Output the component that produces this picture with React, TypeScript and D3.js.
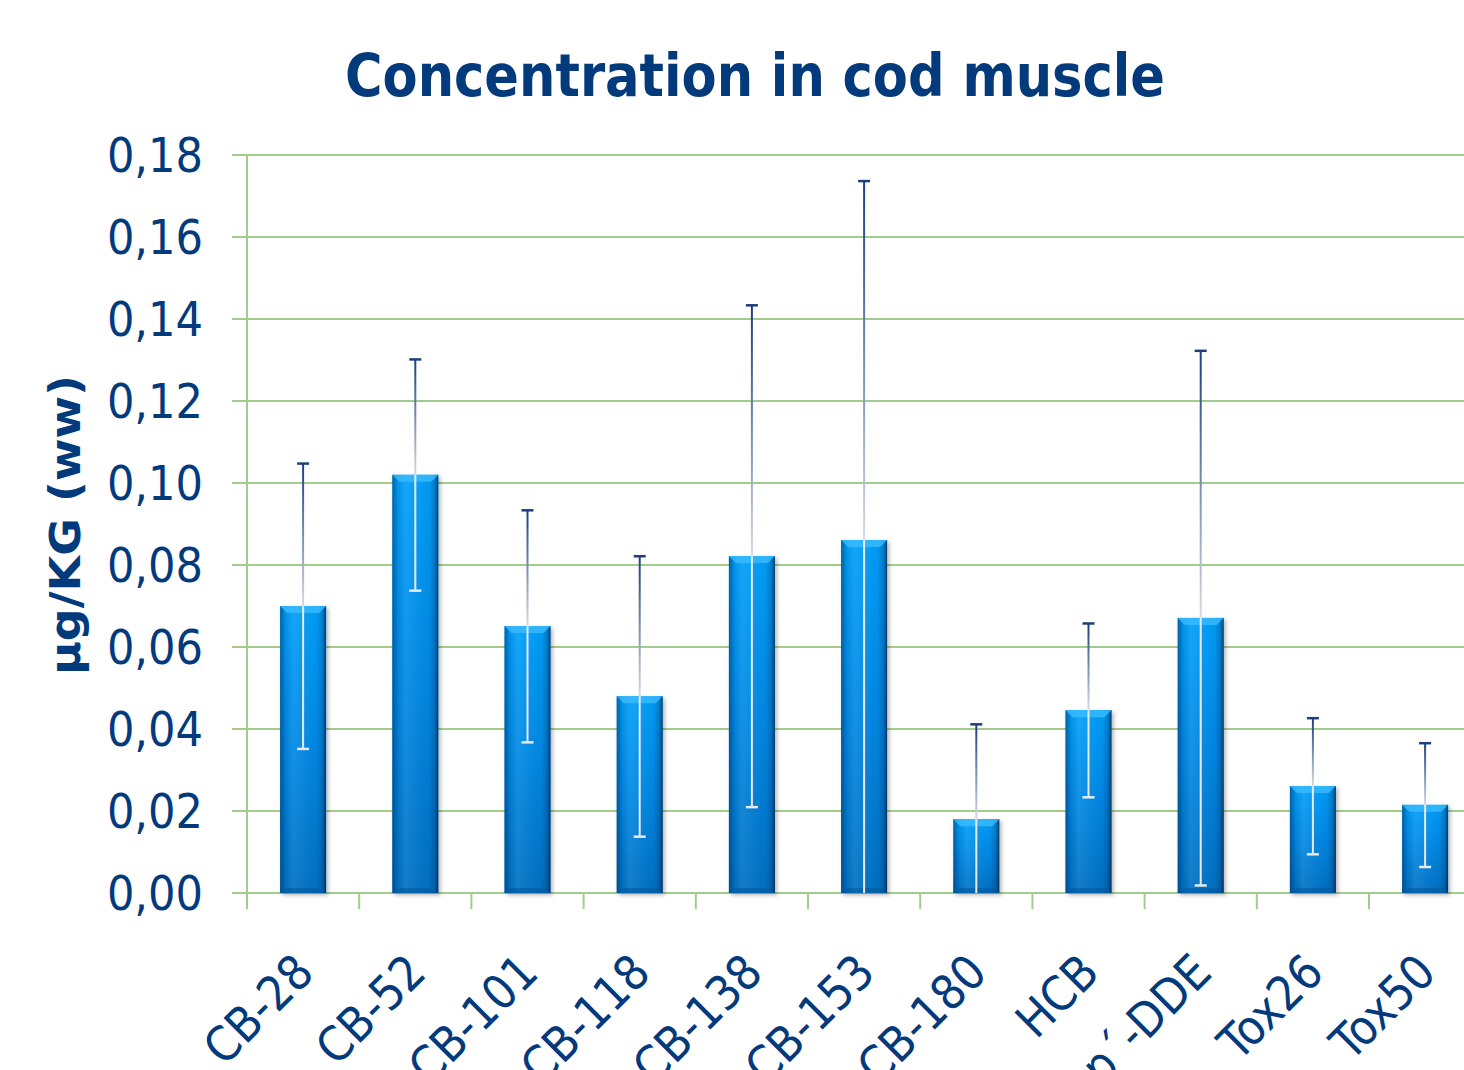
import React from "react";
import * as d3 from "d3";

const categories = ["CB-28", "CB-52", "CB-101", "CB-118", "CB-138", "CB-153", "CB-180", "HCB", "p,p´-DDE", "Tox26", "Tox50"];
const means = [0.070, 0.102, 0.0651, 0.048, 0.0822, 0.0861, 0.018, 0.0446, 0.0671, 0.0261, 0.0215];
const errors = [0.0348, 0.0282, 0.0283, 0.0342, 0.0612, 0.0876, 0.0232, 0.0212, 0.0652, 0.0166, 0.0151];
const yTicks = [0, 0.02, 0.04, 0.06, 0.08, 0.1, 0.12, 0.14, 0.16, 0.18];

const W = 1464;
const H = 1070;
const left = 247;
const top = 155;
const bottom = 893;
const step = 112.2;
const navy = "#033a7c";
const grid = "#a3cc8c";
const font = "'DejaVu Sans Condensed', 'DejaVu Sans', sans-serif";

export default function App() {
  const x = d3
    .scaleBand<string>()
    .domain(categories)
    .range([left, left + step * categories.length])
    .paddingInner(0.59)
    .paddingOuter(0.295);
  const y = d3.scaleLinear().domain([0, 0.18]).range([bottom, top]);
  const fmt = (v: number) => v.toFixed(2).replace(".", ",");
  const bw = x.bandwidth();

  return (
    <svg width={W} height={H} style={{ position: "absolute", left: 0, top: 0, background: "#fff" }} fontFamily={font}>
      <defs>
        <linearGradient id="barV" x1="0" y1="0" x2="0" y2="1">
          <stop offset="0" stopColor="#069ff9" />
          <stop offset="0.5" stopColor="#0388e4" />
          <stop offset="1" stopColor="#0270c2" />
        </linearGradient>
        <linearGradient id="barH" x1="0" y1="0" x2="1" y2="0">
          <stop offset="0" stopColor="#00315e" stopOpacity="0.55" />
          <stop offset="0.12" stopColor="#00315e" stopOpacity="0.1" />
          <stop offset="0.3" stopColor="#ffffff" stopOpacity="0.08" />
          <stop offset="0.8" stopColor="#00315e" stopOpacity="0.05" />
          <stop offset="0.92" stopColor="#00315e" stopOpacity="0.3" />
          <stop offset="1" stopColor="#001a3a" stopOpacity="0.75" />
        </linearGradient>
        <filter id="shadow" x="-20%" y="-5%" width="150%" height="115%">
          <feDropShadow dx="2" dy="2" stdDeviation="2" floodColor="#000" floodOpacity="0.3" />
        </filter>
        {categories.map((c, i) => {
          const hi = means[i] + errors[i];
          return (
            <linearGradient key={c} id={`eb${i}`} gradientUnits="userSpaceOnUse" x1="0" y1={y(hi)} x2="0" y2={y(means[i])}>
              <stop offset="0" stopColor="#1c3f7e" />
              <stop offset="1" stopColor="#d4dbe5" />
            </linearGradient>
          );
        })}
      </defs>

      {/* gridlines */}
      {yTicks.map((t) => (
        <line key={t} x1={left - 15} x2={W} y1={y(t)} y2={y(t)} stroke={grid} strokeWidth={2} />
      ))}
      <line x1={left} x2={left} y1={top} y2={bottom} stroke={grid} strokeWidth={2} />
      {d3.range(categories.length + 1).map((i) => (
        <line key={i} x1={left + i * step} x2={left + i * step} y1={bottom} y2={bottom + 16} stroke={grid} strokeWidth={2} />
      ))}

      {/* y tick labels */}
      {yTicks.map((t) => (
        <text key={t} x={203} y={y(t)} dy="0.36em" textAnchor="end" fontSize={48} fill={navy}>
          {fmt(t)}
        </text>
      ))}

      {/* bars */}
      {categories.map((c, i) => {
        const bx = x(c)!;
        const by = y(means[i]);
        const bh = bottom - by;
        const bev = Math.min(7, bh / 3);
        return (
          <g key={c}>
            <rect x={bx} y={by} width={bw} height={bh} fill="url(#barV)" filter="url(#shadow)" />
            <rect x={bx} y={by} width={bw} height={bh} fill="url(#barH)" />
            <path d={`M${bx},${by}L${bx + bw},${by}L${bx + bw - 7},${by + bev}L${bx + 7},${by + bev}Z`} fill="#3bbcff" opacity={0.8} />
            <path d={`M${bx},${bottom}L${bx + bw},${bottom}L${bx + bw - 6},${bottom - 5}L${bx + 6},${bottom - 5}Z`} fill="#015a9e" opacity={0.6} />
          </g>
        );
      })}

      {/* error bars */}
      {categories.map((c, i) => {
        const cx = x(c)! + bw / 2;
        const hi = means[i] + errors[i];
        const loRaw = means[i] - errors[i];
        const lo = Math.max(0, loRaw);
        const yHi = y(hi);
        const yM = y(means[i]);
        const yLo = y(lo);
        return (
          <g key={c}>
            <rect x={cx - 1} y={yHi} width={2} height={yM - yHi} fill={`url(#eb${i})`} />
            <rect x={cx - 1} y={yM} width={2} height={yLo - yM} fill="#e6eaf0" />
            <rect x={cx - 6} y={yHi - 1} width={12} height={2.5} fill="#1c3f7e" />
            {loRaw > 0 && <rect x={cx - 6} y={yLo - 1} width={12} height={2.5} fill="#e6eaf0" />}
          </g>
        );
      })}

      {/* x labels */}
      {categories.map((c, i) => {
        const ax = x(c)! + bw / 2 + 13;
        const ay = 975;
        return (
          <text key={c} x={ax} y={ay} textAnchor="end" fontSize={48} fill={navy} transform={`rotate(-45 ${ax} ${ay})`}>
            {c}
          </text>
        );
      })}

      {/* title */}
      <text x={755} y={96} textAnchor="middle" fontSize={58} fontWeight="bold" fill={navy} textLength={820} lengthAdjust="spacingAndGlyphs">
        Concentration in cod muscle
      </text>

      {/* y axis title */}
      <text transform="translate(80,525) rotate(-90)" textAnchor="middle" fontSize={42} fontWeight="bold" fill={navy} textLength={300} lengthAdjust="spacingAndGlyphs">
        µg/KG (ww)
      </text>
    </svg>
  );
}
